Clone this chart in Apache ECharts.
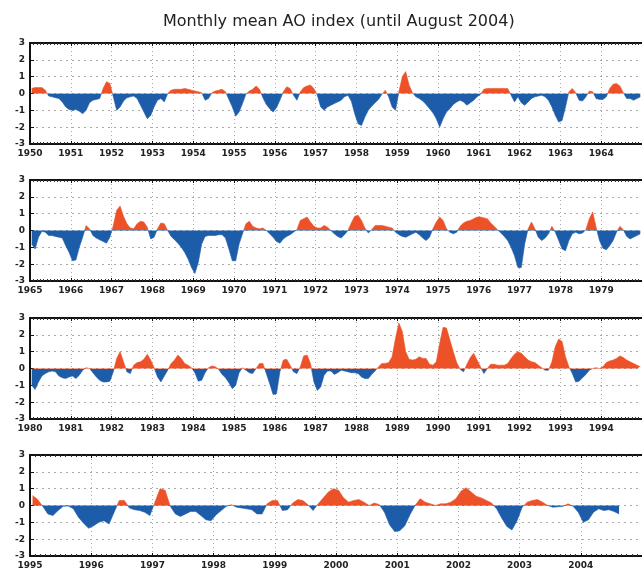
<!DOCTYPE html>
<html>
<head>
<meta charset="utf-8">
<script src="https://cdn.jsdelivr.net/npm/echarts@6/dist/echarts.min.js"></script>
<style>
html,body{margin:0;padding:0;background:#fff;}
#chart{width:642px;height:574px;}
</style>
</head>
<body>
<div id="chart"></div>
<script>
// Monthly mean AO index (Jan of start year onward)
const panelStartYears = [1950, 1965, 1980, 1995];
const panelEndYears = [1965, 1980, 1995, 2005];
const titleText = 'Monthly mean AO index (until August 2004)';
const yTickValues = [-3, -2, -1, 0, 1, 2, 3];

const ao1950to1964 = [
  0.3,0.35,0.35,0.35,0.2,-0.15,-0.2,-0.25,-0.3,-0.5,-0.8,-0.95,
  -1.0,-0.95,-1.05,-1.2,-1.0,-0.55,-0.4,-0.35,-0.3,0.3,0.7,0.6,
  -0.2,-1.0,-0.8,-0.45,-0.25,-0.2,-0.15,-0.3,-0.7,-1.1,-1.5,-1.3,
  -0.8,-0.4,-0.3,-0.5,0,0.2,0.25,0.25,0.25,0.3,0.25,0.2,
  0.15,0.1,0.05,-0.4,-0.3,0.05,0.15,0.2,0.25,0.1,-0.35,-0.8,
  -1.35,-1.1,-0.6,-0.05,0.15,0.25,0.45,0.25,-0.25,-0.65,-0.9,-1.1,
  -0.85,-0.4,0.1,0.4,0.3,-0.1,-0.4,0.1,0.35,0.45,0.5,0.3,
  -0.1,-0.8,-1.0,-0.8,-0.7,-0.6,-0.5,-0.4,-0.2,-0.1,-0.45,-1.2,
  -1.8,-1.9,-1.4,-1.0,-0.75,-0.55,-0.35,-0.05,0.2,-0.2,-0.8,-1.0,
  0.1,1.0,1.3,0.5,0.05,-0.2,-0.3,-0.45,-0.65,-0.9,-1.15,-1.5,
  -2.0,-1.5,-1.1,-0.9,-0.65,-0.5,-0.4,-0.5,-0.7,-0.55,-0.4,-0.2,
  -0.05,0.25,0.3,0.3,0.3,0.3,0.3,0.3,0.3,-0.1,-0.5,-0.2,
  -0.55,-0.7,-0.5,-0.3,-0.2,-0.15,-0.1,-0.2,-0.4,-0.8,-1.3,-1.7,
  -1.6,-0.8,0.1,0.3,0.05,-0.4,-0.45,-0.2,0.15,0.1,-0.3,-0.35,
  -0.35,-0.2,0.3,0.55,0.6,0.45,0.05,-0.3,-0.3,-0.4,-0.3,-0.2
];
const ao1965to1979 = [
  -0.8,-1.1,-0.4,-0.05,-0.1,-0.3,-0.3,-0.35,-0.4,-0.45,-0.9,-1.3,
  -1.8,-1.75,-1.0,-0.4,0.3,0.1,-0.3,-0.45,-0.55,-0.65,-0.75,-0.4,
  0.3,1.2,1.45,0.85,0.4,0.15,0.1,0.4,0.55,0.5,0.2,-0.5,
  -0.4,0.1,0.45,0.4,0,-0.35,-0.55,-0.75,-1.0,-1.3,-1.7,-2.2,
  -2.55,-1.9,-0.8,-0.35,-0.3,-0.3,-0.3,-0.25,-0.25,-0.45,-1.1,-1.8,
  -1.8,-0.8,-0.2,0.4,0.55,0.25,0.15,0.1,0.15,0,-0.2,-0.4,
  -0.65,-0.75,-0.5,-0.35,-0.25,-0.1,0.05,0.6,0.7,0.8,0.5,0.25,
  0.15,0.15,0.3,0.2,0,-0.2,-0.35,-0.45,-0.25,0,0.45,0.85,
  0.9,0.6,0.15,-0.15,0.05,0.3,0.3,0.3,0.25,0.2,0.15,-0.1,
  -0.25,-0.35,-0.4,-0.3,-0.2,-0.1,-0.25,-0.45,-0.6,-0.4,0.1,0.5,
  0.8,0.6,0.1,-0.1,-0.2,-0.1,0.25,0.45,0.55,0.6,0.7,0.8,
  0.8,0.75,0.7,0.45,0.25,0.05,-0.15,-0.35,-0.6,-1.0,-1.5,-2.2,
  -2.2,-0.8,0.1,0.5,0.1,-0.4,-0.6,-0.45,-0.2,0.25,-0.1,-0.6,
  -1.1,-1.2,-0.6,-0.2,-0.1,-0.2,-0.15,0.05,0.7,1.1,0.2,-0.6,
  -1.05,-1.15,-0.9,-0.6,-0.1,0.25,0.05,-0.35,-0.5,-0.4,-0.3,-0.2
];
const ao1980to1994 = [
  -1.0,-1.25,-0.8,-0.45,-0.3,-0.2,-0.15,-0.2,-0.45,-0.55,-0.6,-0.5,
  -0.45,-0.6,-0.4,-0.1,0.05,0,-0.25,-0.5,-0.7,-0.8,-0.8,-0.75,
  -0.2,0.6,1.0,0.4,-0.2,-0.3,0.2,0.35,0.4,0.55,0.85,0.5,
  0.05,-0.5,-0.8,-0.45,-0.1,0.3,0.5,0.8,0.6,0.3,0.2,0.05,
  -0.25,-0.75,-0.7,-0.25,0.05,0.15,0.1,-0.05,-0.35,-0.55,-0.85,-1.2,
  -1.0,-0.25,0.05,-0.1,-0.25,-0.3,0,0.3,0.3,-0.3,-0.9,-1.55,
  -1.5,-0.2,0.5,0.55,0.2,-0.2,-0.3,0.1,0.75,0.8,0.3,-0.8,
  -1.3,-1.1,-0.4,-0.15,-0.15,-0.35,-0.25,-0.1,-0.15,-0.2,-0.25,-0.25,
  -0.3,-0.5,-0.6,-0.6,-0.35,-0.15,0.1,0.3,0.3,0.35,0.7,1.8,
  2.7,2.2,1.0,0.55,0.5,0.55,0.7,0.6,0.6,0.25,0.2,0.4,
  1.5,2.45,2.4,1.7,1.0,0.35,-0.05,-0.2,0.25,0.65,0.9,0.5,
  0.1,-0.3,0,0.25,0.25,0.2,0.2,0.2,0.3,0.6,0.85,1.0,
  0.9,0.7,0.5,0.4,0.35,0.2,0.05,-0.1,-0.1,0.4,1.3,1.75,
  1.6,0.7,0.1,-0.3,-0.8,-0.75,-0.55,-0.35,-0.1,0,0.05,0,
  0.1,0.35,0.45,0.5,0.6,0.75,0.65,0.5,0.4,0.3,0.2,0.1
];
const ao1995to2004 = [
  0.6,0.35,-0.05,-0.5,-0.6,-0.3,-0.05,-0.03,-0.2,-0.7,-1.05,-1.35,
  -1.2,-1.0,-0.9,-1.1,-0.4,0.3,0.3,-0.15,-0.25,-0.3,-0.4,-0.6,
  0.2,1.0,0.9,-0.05,-0.5,-0.65,-0.5,-0.35,-0.35,-0.6,-0.85,-0.9,
  -0.55,-0.3,-0.05,0.05,-0.1,-0.15,-0.2,-0.25,-0.5,-0.5,0.1,0.3,
  0.3,-0.3,-0.25,0.15,0.35,0.3,0.05,-0.3,0.1,0.45,0.8,1.0,
  0.9,0.45,0.2,0.3,0.35,0.2,0,0.15,0.05,-0.4,-1.15,-1.55,
  -1.5,-1.2,-0.55,0,0.4,0.2,0.1,0,0.1,0.1,0.2,0.4,
  0.85,1.05,0.8,0.55,0.45,0.3,0.15,-0.2,-0.75,-1.25,-1.45,-0.9,
  -0.1,0.2,0.3,0.35,0.2,0,-0.1,-0.08,-0.05,0.1,-0.05,-0.4,
  -1.0,-0.85,-0.4,-0.2,-0.3,-0.25,-0.35,-0.5
];

const panelValues = [ao1950to1964, ao1965to1979, ao1980to1994, ao1995to2004];

const RED = '#ec5127';
const BLUE = '#1d5ca8';
const panelTops = [43, 180, 318, 455];
const panelHeight = 101;
const gridLeft = 30;
const gridWidth = 626;
const labelFont = { fontFamily: 'DejaVu Sans', fontSize: 9, fontWeight: 'bold', color: '#222' };

const grids = [], xAxes = [], yAxes = [], series = [], visualMaps = [];
panelValues.forEach((vals, p) => {
  grids.push({ left: gridLeft, top: panelTops[p], width: gridWidth, height: panelHeight });
  xAxes.push({
    type: 'value', gridIndex: p, position: 'bottom',
    min: panelStartYears[p], max: panelEndYears[p], interval: 1,
    axisLine: { show: true, onZero: false, lineStyle: { color: '#111', width: 2 } },
    axisTick: { show: true, inside: true, length: 3, lineStyle: { color: '#111' } },
    minorTick: { show: true, splitNumber: 12, length: 2, lineStyle: { color: '#333' } },
    axisLabel: Object.assign({ margin: 5, formatter: v => String(v), showMaxLabel: false }, labelFont),
    splitLine: { show: true, lineStyle: { color: '#aaa', type: [1, 3], width: 1 } }
  });
  xAxes.push({
    type: 'value', gridIndex: p, position: 'top',
    min: panelStartYears[p], max: panelEndYears[p], interval: 1,
    axisLine: { show: true, onZero: false, lineStyle: { color: '#111', width: 2 } },
    axisTick: { show: true, inside: true, length: 3, lineStyle: { color: '#111' } },
    minorTick: { show: true, splitNumber: 12, length: 2, lineStyle: { color: '#333' } },
    axisLabel: { show: false },
    splitLine: { show: false }
  });
  yAxes.push({
    type: 'value', gridIndex: p, min: -3, max: 3, interval: 1,
    axisLine: { show: true, onZero: false, lineStyle: { color: '#111', width: 2 } },
    axisTick: { show: true, inside: true, length: 4, lineStyle: { color: '#111' } },
    axisLabel: Object.assign({ margin: 5, formatter: v => yTickValues.includes(v) ? String(v) : '' }, labelFont),
    splitLine: { show: true, lineStyle: { color: '#aaa', type: [2, 4], width: 1 } }
  });
  series.push({
    type: 'line',
    xAxisIndex: p * 2, yAxisIndex: p,
    data: vals.map((v, i) => [panelStartYears[p] + (i + 0.5) / 12, v]),
    showSymbol: false, symbol: 'none',
    lineStyle: { width: 0.6 },
    areaStyle: { opacity: 1 },
    silent: true, animation: false
  });
  visualMaps.push({
    type: 'piecewise', show: false, dimension: 1, seriesIndex: p,
    pieces: [{ gte: -5, lt: 0, color: BLUE }, { gte: 0, lte: 5, color: RED }]
  });
});

const chart = echarts.init(document.getElementById('chart'), null, { renderer: 'canvas' });
chart.setOption({
  animation: false,
  backgroundColor: '#fff',
  title: {
    text: titleText, left: 158, top: 9,
    textStyle: { fontFamily: 'DejaVu Sans', fontSize: 16, fontWeight: 'normal', color: '#222' }
  },
  visualMap: visualMaps,
  grid: grids,
  xAxis: xAxes,
  yAxis: yAxes,
  series: series
});
</script>
</body>
</html>
